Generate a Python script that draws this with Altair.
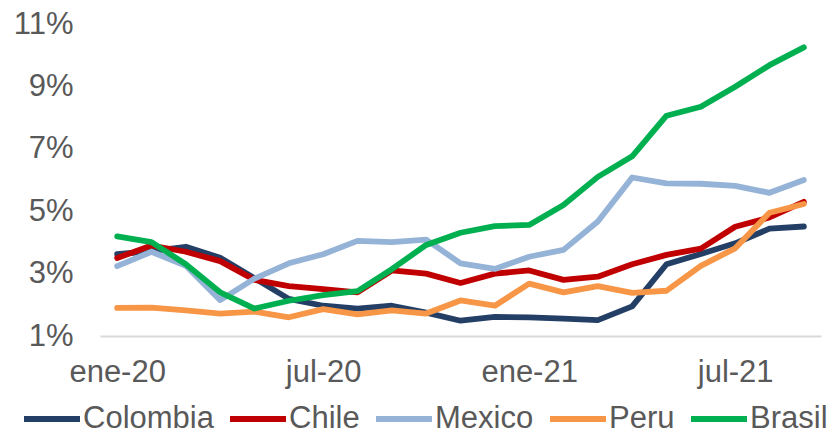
import altair as alt
import pandas as pd

months = ["ene-20", "feb-20", "mar-20", "abr-20", "may-20", "jun-20", "jul-20",
          "ago-20", "sep-20", "oct-20", "nov-20", "dic-20", "ene-21", "feb-21",
          "mar-21", "abr-21", "may-21", "jun-21", "jul-21", "ago-21", "sep-21"]

colombia = [3.62, 3.72, 3.86, 3.51, 2.85, 2.19, 1.97, 1.88, 1.97, 1.75, 1.49, 1.61,
            1.60, 1.56, 1.51, 1.95, 3.30, 3.63, 3.97, 4.44, 4.51]
chile = [3.5, 3.9, 3.7, 3.4, 2.8, 2.6, 2.5, 2.4, 3.1, 3.0, 2.7, 3.0,
         3.1, 2.8, 2.9, 3.3, 3.6, 3.8, 4.5, 4.8, 5.3]
mexico = [3.24, 3.70, 3.25, 2.15, 2.84, 3.33, 3.62, 4.05, 4.01, 4.09, 3.33, 3.15,
          3.54, 3.76, 4.67, 6.08, 5.89, 5.88, 5.81, 5.59, 6.00]
peru = [1.90, 1.91, 1.82, 1.72, 1.78, 1.60, 1.86, 1.69, 1.82, 1.72, 2.14, 1.97,
        2.68, 2.40, 2.60, 2.38, 2.45, 3.25, 3.81, 4.95, 5.23]
brasil = [4.19, 4.01, 3.30, 2.40, 1.88, 2.13, 2.31, 2.44, 3.14, 3.92, 4.31, 4.52,
          4.56, 5.20, 6.10, 6.76, 8.06, 8.35, 8.99, 9.68, 10.25]

series_names = ["Colombia", "Chile", "Mexico", "Peru", "Brasil"]
series_values = [colombia, chile, mexico, peru, brasil]
series_colors = ["#243F66", "#C00000", "#95B3D7", "#F79646", "#00B050"]
x_labels = ["ene-20", "jul-20", "ene-21", "jul-21"]
y_ticks = [1, 3, 5, 7, 9, 11]

rows = []
for name, vals in zip(series_names, series_values):
    for m, v in zip(months, vals):
        rows.append({"mes": m, "serie": name, "valor": v})
df = pd.DataFrame(rows)

FONT = "Liberation Sans"
GRAY = "#595959"

color = alt.Color(
    "serie:N",
    scale=alt.Scale(domain=series_names, range=series_colors),
    sort=series_names,
    legend=alt.Legend(
        title=None,
        orient="none",
        direction="horizontal",
        columns=5,
        legendX=-79,
        legendY=364,
        symbolType="stroke",
        symbolSize=3136,
        symbolStrokeWidth=6,
        labelFont=FONT,
        labelFontSize=31,
        labelColor=GRAY,
        labelOffset=0,
        labelLimit=400,
        columnPadding=4,
    ),
)

x = alt.X(
    "mes:O",
    sort=months,
    scale=alt.Scale(paddingOuter=0.5),
    axis=alt.Axis(
        title=None,
        values=x_labels,
        labelAngle=0,
        ticks=False,
        grid=False,
        domainColor="#D9D9D9",
        domainWidth=2,
        labelFont=FONT,
        labelFontSize=31,
        labelColor=GRAY,
        labelPadding=21,
    ),
)

y = alt.Y(
    "valor:Q",
    scale=alt.Scale(domain=[1, 11], nice=False, zero=False),
    axis=alt.Axis(
        title=None,
        values=y_ticks,
        labelExpr="datum.value + '%'",
        ticks=False,
        grid=False,
        domain=False,
        labelFont=FONT,
        labelFontSize=31,
        labelColor=GRAY,
        labelPadding=27,
    ),
)

layers = []
for name in series_names:
    layers.append(
        alt.Chart(df)
        .transform_filter(alt.datum.serie == name)
        .mark_line(strokeWidth=5.8, strokeCap="round", strokeJoin="round")
        .encode(x=x, y=y, color=color)
    )

chart = (
    alt.layer(*layers)
    .properties(
        width=721,
        height=312,
        view=alt.ViewBackground(strokeWidth=0, strokeOpacity=0),
        autosize=alt.AutoSizeParams(type="none"),
        padding={"left": 100, "top": 24, "right": 17, "bottom": 100},
    )
    .configure_view(stroke="transparent", strokeWidth=0, strokeOpacity=0)
    .configure(background="white")
)

chart.save("out.html", embed_options={"renderer": "svg", "actions": False})
